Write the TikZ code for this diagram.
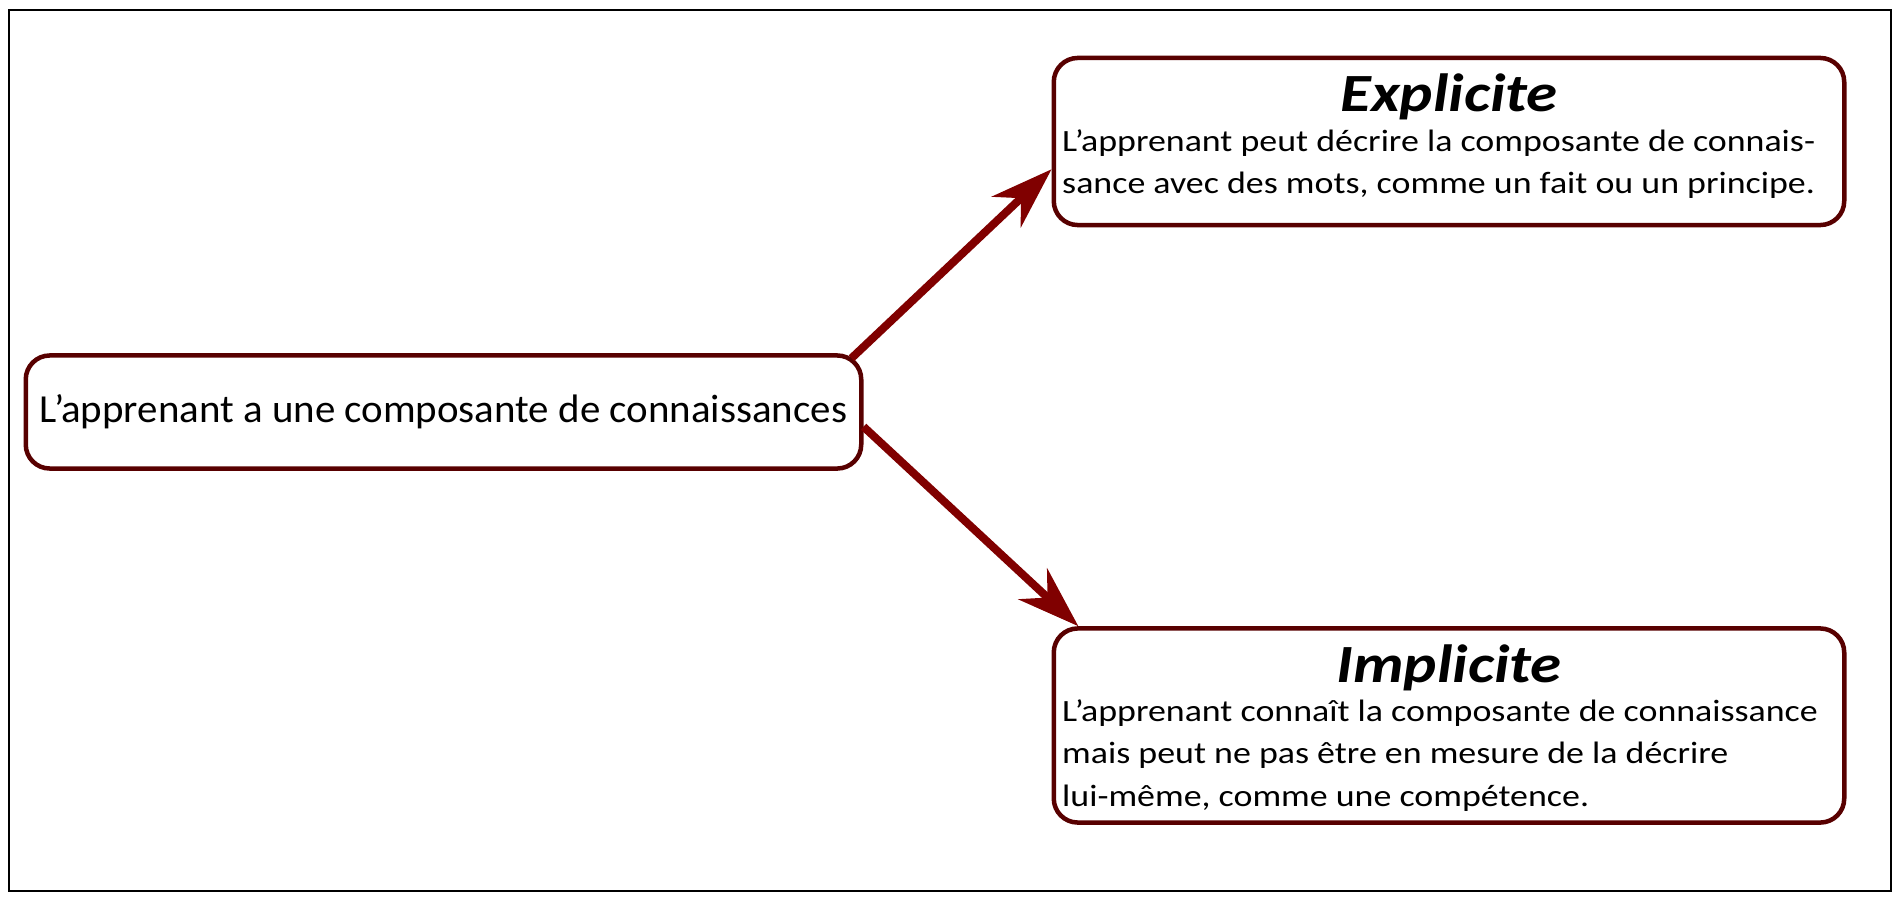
\documentclass[tikz,border=0pt]{standalone}
\usepackage{fontspec}
\setmainfont{Carlito}
\newfontfamily\leftfont{Carlito}[FakeStretch=1.03]
\newfontfamily\bodyfont{Carlito}[FakeStretch=1.16]
\newfontfamily\titlefont{Carlito}[FakeStretch=1.17]
\usetikzlibrary{arrows.meta}
\definecolor{boxred}{RGB}{88,0,0}
\definecolor{arrowred}{RGB}{128,0,0}
\newcommand{\tikzTitledBox}[6]{
% #1 = name, #2 = x, #3 = y, #4 = height, #5 = title, #6 = text
\node[kbox, minimum height=#4] (#1) at (#2,#3) {};
\node[boxtitle, anchor=base] (#1-title) at ([yshift=-0.56cm]#1.north) {#5};
\node[boxtext, anchor=north west] (#1-text) at ([xshift=0.1cm, yshift=-0.73cm]#1.north west) {#6};
}

\begin{document}
\begin{tikzpicture}[x=0.01cm, y=-0.01cm, >=Stealth,
    kbox/.style={draw=boxred, line width=0.045cm, rounded corners=0.24cm, fill=white, minimum width=7.9cm},
    boxtitle/.style={font=\titlefont\fontsize{15.3}{18}\selectfont\bfseries\itshape, inner sep=0pt},
    boxtext/.style={font=\bodyfont\fontsize{8.8}{12}\selectfont, align=left, inner sep=0pt},
    linkarrow/.style={arrowred, line width=0.08cm, -{Stealth[length=0.62cm, width=0.42cm, inset=0.2cm]}}]

    \useasboundingbox (0,0) rectangle (1900,900);
    % outer frame
    \draw[line width=0.025cm] (9,10) rectangle (1891,891);

    % the starting box on the left
    \node[kbox, minimum width=8.35cm, minimum height=1.13cm, font=\leftfont\fontsize{11.3}{13}\selectfont] (left) at (443.5,412) {L’apprenant a une composante de connaissances};

    % the two kinds of knowledge on the right:
    \tikzTitledBox{explicit}{1449}{141.5}{1.67cm}{Explicite}{L’apprenant peut décrire la composante de connais-\\sance avec des mots, comme un fait ou un principe.}
    \tikzTitledBox{implicit}{1449}{725.5}{1.94cm}{Implicite}{L’apprenant connaît la composante de connaissance\\mais peut ne pas être en mesure de la décrire\\lui-même, comme une compétence.}

    % arrows from the left box:
    \draw[linkarrow] ([xshift=-0.12cm, yshift=-0.05cm]left.north east) -- (explicit.184);
    \draw[linkarrow] (left.358.6) -- (implicit.165);

\end{tikzpicture}
\end{document}
